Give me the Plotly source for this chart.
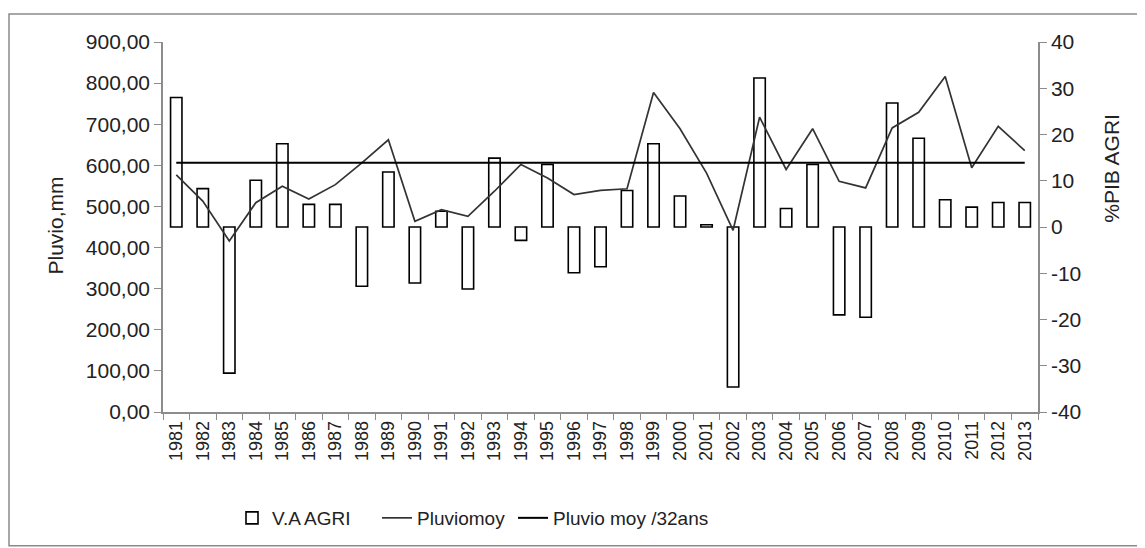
import plotly.graph_objects as go

years = [str(y) for y in range(1981, 2014)]

# V.A AGRI (% PIB AGRI, right axis)
va_agri = [28.0, 8.3, -31.6, 10.1, 18.0, 4.9, 4.9, -12.8, 11.9, -12.1,
           3.4, -13.4, 14.9, -2.9, 13.5, -9.9, -8.6, 7.9, 18.0, 6.7,
           0.5, -34.6, 32.2, 4.0, 13.5, -19.0, -19.5, 26.8, 19.2, 5.9,
           4.3, 5.3, 5.3]

# Pluviomoy (mm, left axis)
pluviomoy = [577, 513, 416, 509, 549, 518, 553, 606, 662, 464,
             492, 476, 537, 602, 569, 529, 539, 543, 777, 689,
             581, 442, 717, 590, 689, 561, 545, 691, 729, 816,
             594, 695, 636]

# Pluvio moy /32ans (mm, left axis)
pluvio_moy_32ans = 606

left_ticks = [0, 100, 200, 300, 400, 500, 600, 700, 800, 900]
left_ticktext = ["0,00", "100,00", "200,00", "300,00", "400,00",
                 "500,00", "600,00", "700,00", "800,00", "900,00"]
right_ticks = [-40, -30, -20, -10, 0, 10, 20, 30, 40]
right_ticktext = ["-40", "-30", "-20", "-10", "0", "10", "20", "30", "40"]

FONT = "Liberation Sans, Arial, sans-serif"
AX = "#8c8c8c"

fig = go.Figure()
fig.add_trace(go.Bar(
    x=years, y=va_agri, name="V.A AGRI", yaxis="y", legend="legend",
    width=0.43, marker=dict(color="white", line=dict(color="black", width=1.6)),
))
fig.add_trace(go.Scatter(
    x=years, y=pluviomoy, name="Pluviomoy", yaxis="y2", mode="lines",
    legend="legend2", line=dict(color="#333333", width=1.7),
))
fig.add_trace(go.Scatter(
    x=[years[0], years[-1]], y=[pluvio_moy_32ans, pluvio_moy_32ans],
    name="Pluvio moy /32ans", yaxis="y2", mode="lines",
    legend="legend3", line=dict(color="black", width=2),
))

OFF = 8  # page offset of the figure inside the browser window
W, H = 1145 - OFF, 548 - OFF
L, R, T, B = 163 - OFF, 1145 - 1038, 42 - OFF, 548 - 413
pw, ph = W - L - R, H - T - B

def px_x(x):
    return (x - OFF - L) / pw

def px_y(y):
    return (H - B - (y - OFF)) / ph

def leg(xpix):
    return dict(
        orientation="h", x=px_x(xpix), y=px_y(518), xanchor="left", yanchor="middle",
        font=dict(size=19, family=FONT), bgcolor="rgba(0,0,0,0)", itemwidth=30,
    )

fig.update_layout(
    width=W, height=H,
    margin=dict(l=L, r=R, t=T, b=B),
    paper_bgcolor="white", plot_bgcolor="white",
    font=dict(family=FONT, color="#222222"),
    showlegend=True,
    xaxis=dict(
        type="category", tickangle=-90, tickfont=dict(size=18),
        showline=True, linecolor=AX, linewidth=1.5,
        ticks="outside", ticklen=6, tickcolor=AX, tickson="boundaries",
        showgrid=False, zeroline=False, range=[-0.5, 32.5],
    ),
    yaxis=dict(
        side="right", range=[-40, 40],
        tickmode="array", tickvals=right_ticks, ticktext=right_ticktext,
        tickfont=dict(size=21), showline=True, linecolor=AX, linewidth=1.5,
        ticks="outside", ticklen=7, tickcolor=AX,
        showgrid=False, zeroline=False,
    ),
    yaxis2=dict(
        overlaying="y", side="left", range=[0, 900],
        tickmode="array", tickvals=left_ticks, ticktext=left_ticktext,
        tickfont=dict(size=21), showline=True, linecolor=AX, linewidth=1.5,
        ticks="outside", ticklen=7, tickcolor=AX,
        showgrid=False, zeroline=False,
    ),
    legend=leg(232),
    legend2=leg(377),
    legend3=leg(513),
    shapes=[dict(
        type="rect", xref="paper", yref="paper",
        x0=px_x(9), x1=px_x(1144), y0=px_y(547), y1=px_y(14),
        line=dict(color="#8a8a8a", width=1.5), fillcolor="rgba(0,0,0,0)",
        layer="below",
    )],
    annotations=[
        dict(text="Pluvio,mm", xref="paper", yref="paper",
             x=px_x(56), y=px_y(226), textangle=-90, showarrow=False,
             font=dict(size=21, family=FONT), xanchor="center", yanchor="middle"),
        dict(text="%PIB AGRI", xref="paper", yref="paper",
             x=px_x(1112), y=px_y(169), textangle=-90, showarrow=False,
             font=dict(size=21, family=FONT), xanchor="center", yanchor="middle"),
    ],
)

fig.write_html("out.html")
